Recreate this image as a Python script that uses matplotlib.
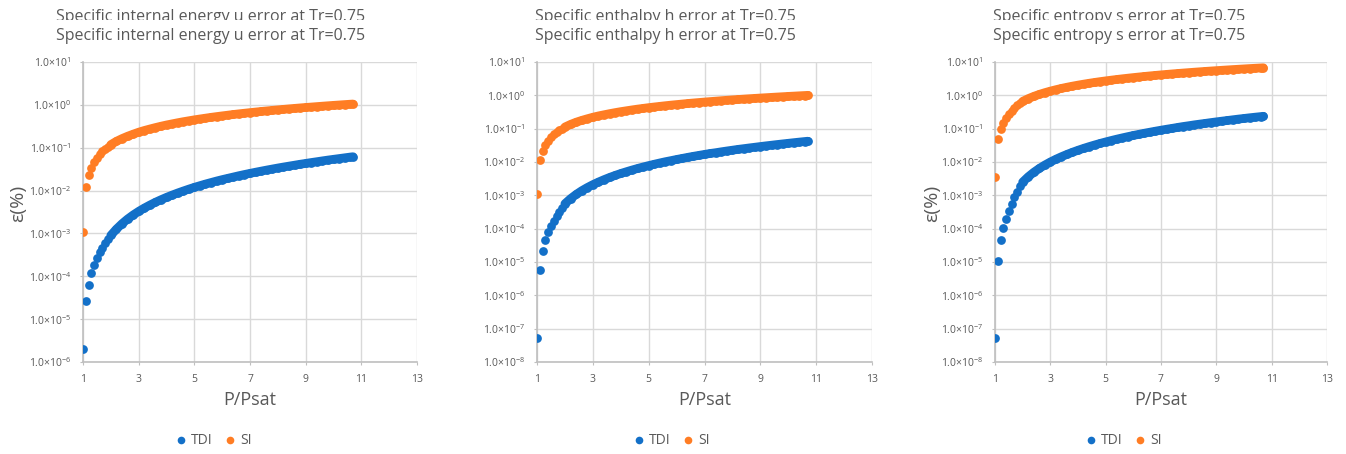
import numpy as np
import matplotlib
matplotlib.use("Agg")
import matplotlib.pyplot as plt
from matplotlib.ticker import FixedLocator, FuncFormatter, NullLocator
from matplotlib.transforms import Bbox, TransformedBbox

plt.rcParams['font.family'] = ['Open Sans', 'DejaVu Sans']
plt.rcParams['mathtext.fontset'] = 'custom'
plt.rcParams['mathtext.rm'] = 'Open Sans'

# reduced pressure P/Psat shared by the three panels
p_ratio = [1.0, 1.1, 1.2, 1.3, 1.4, 1.5, 1.6, 1.7, 1.8, 1.9, 2.0,
           2.2, 2.4, 2.6, 2.8, 3.0, 3.2, 3.4, 3.6, 3.8, 4.0,
           4.2, 4.4, 4.6, 4.8, 5.0, 5.2, 5.4, 5.6, 5.8, 6.0,
           6.2, 6.4, 6.6, 6.8, 7.0, 7.2, 7.4, 7.6, 7.8, 8.0,
           8.2, 8.4, 8.6, 8.8, 9.0, 9.2, 9.4, 9.6, 9.8, 10.0,
           10.2, 10.4, 10.6, 10.7]

# error in % for internal energy u
u_tdi = [2.0e-6, 2.6e-5, 6.4e-5, 1.18e-4, 1.8e-4, 2.7e-4, 3.6e-4, 4.6e-4, 5.9e-4, 7.4e-4, 9.0e-4,
         1.26e-3, 1.68e-3, 2.16e-3, 2.69e-3, 3.27e-3, 3.90e-3, 4.58e-3, 5.33e-3, 6.11e-3, 6.95e-3,
         7.83e-3, 8.77e-3, 9.75e-3, 1.08e-2, 1.19e-2, 1.30e-2, 1.42e-2, 1.54e-2, 1.67e-2, 1.80e-2,
         1.93e-2, 2.07e-2, 2.22e-2, 2.37e-2, 2.52e-2, 2.68e-2, 2.84e-2, 3.01e-2, 3.18e-2, 3.36e-2,
         3.54e-2, 3.72e-2, 3.91e-2, 4.11e-2, 4.30e-2, 4.51e-2, 4.71e-2, 4.93e-2, 5.15e-2, 5.36e-2,
         5.58e-2, 5.81e-2, 6.05e-2, 6.16e-2]
u_si = [1.07e-3, 0.0118, 0.0237, 0.034, 0.046, 0.058, 0.070, 0.082, 0.094, 0.106, 0.118,
        0.141, 0.163, 0.185, 0.207, 0.230, 0.252, 0.273, 0.295, 0.317, 0.339,
        0.360, 0.382, 0.404, 0.425, 0.447, 0.468, 0.489, 0.511, 0.532, 0.553,
        0.574, 0.596, 0.617, 0.638, 0.659, 0.680, 0.701, 0.722, 0.743, 0.764,
        0.785, 0.806, 0.827, 0.848, 0.869, 0.889, 0.910, 0.931, 0.952, 0.973,
        0.993, 1.014, 1.035, 1.045]

# error in % for enthalpy h
h_tdi = [5.2e-8, 5.8e-6, 2.1e-5, 4.5e-5, 7.8e-5, 1.2e-4, 1.75e-4, 2.4e-4, 3.2e-4, 4.3e-4, 5.6e-4,
         7.9e-4, 1.06e-3, 1.37e-3, 1.71e-3, 2.09e-3, 2.50e-3, 2.95e-3, 3.44e-3, 3.96e-3, 4.52e-3,
         5.10e-3, 5.73e-3, 6.39e-3, 7.08e-3, 7.80e-3, 8.56e-3, 9.36e-3, 1.02e-2, 1.10e-2, 1.19e-2,
         1.28e-2, 1.38e-2, 1.48e-2, 1.58e-2, 1.69e-2, 1.80e-2, 1.90e-2, 2.02e-2, 2.14e-2, 2.26e-2,
         2.39e-2, 2.51e-2, 2.64e-2, 2.77e-2, 2.91e-2, 3.05e-2, 3.19e-2, 3.34e-2, 3.49e-2, 3.64e-2,
         3.80e-2, 3.96e-2, 4.12e-2, 4.20e-2]
h_si = [1.12e-3, 0.0117, 0.0219, 0.033, 0.044, 0.056, 0.067, 0.079, 0.090, 0.101, 0.112,
        0.134, 0.156, 0.177, 0.198, 0.220, 0.241, 0.261, 0.282, 0.303, 0.324,
        0.344, 0.365, 0.386, 0.406, 0.427, 0.447, 0.467, 0.488, 0.508, 0.528,
        0.548, 0.569, 0.589, 0.609, 0.629, 0.649, 0.669, 0.690, 0.710, 0.730,
        0.750, 0.770, 0.790, 0.810, 0.830, 0.849, 0.869, 0.889, 0.909, 0.929,
        0.948, 0.968, 0.988, 0.998]

# error in % for entropy s
s_tdi = [5.2e-8, 1.05e-5, 4.5e-5, 1.07e-4, 2.0e-4, 3.4e-4, 5.6e-4, 8.8e-4, 1.3e-3, 1.85e-3, 2.5e-3,
         3.6e-3, 4.9e-3, 6.4e-3, 8.1e-3, 1.0e-2, 1.21e-2, 1.44e-2, 1.69e-2, 1.96e-2, 2.25e-2,
         2.56e-2, 2.89e-2, 3.24e-2, 3.61e-2, 4.0e-2, 4.41e-2, 4.84e-2, 5.29e-2, 5.76e-2, 6.25e-2,
         6.76e-2, 7.29e-2, 7.84e-2, 8.41e-2, 9.0e-2, 9.61e-2, 0.102, 0.109, 0.116, 0.1225,
         0.130, 0.137, 0.144, 0.152, 0.160, 0.168, 0.176, 0.185, 0.194, 0.2025,
         0.212, 0.221, 0.230, 0.235]
s_si = [3.5e-3, 0.048, 0.10, 0.15, 0.21, 0.27, 0.34, 0.42, 0.50, 0.57, 0.66,
        0.795, 0.930, 1.066, 1.202, 1.338, 1.475, 1.612, 1.749, 1.886, 2.024,
        2.162, 2.300, 2.438, 2.576, 2.714, 2.853, 2.991, 3.130, 3.269, 3.408,
        3.547, 3.686, 3.826, 3.965, 4.105, 4.244, 4.384, 4.524, 4.663, 4.803,
        4.943, 5.083, 5.224, 5.364, 5.504, 5.645, 5.785, 5.926, 6.066, 6.207,
        6.348, 6.488, 6.629, 6.700]

titles = ["Specific internal energy u error at Tr=0.75",
          "Specific enthalpy h error at Tr=0.75",
          "Specific entropy s error at Tr=0.75"]
x_ticks = [1, 3, 5, 7, 9, 11, 13]
y_lows = [-6, -8, -8]
series_names = ["TDI", "SI"]

BLUE = '#1370c8'
ORANGE = '#ff7d24'
TEXT = '#595959'
GRID = '#d9d9d9'
AXIS = '#bfbfbf'
MS = 6.3          # marker diameter in points (~8.7 px)
DENSE_FROM = 10   # from P/Psat = 2 on the markers run together into a band

W, H = 1346, 454
fig = plt.figure(figsize=(W / 100, H / 100), dpi=100)

def px(x, y):
    """pixel position from the top-left corner -> figure fraction"""
    return x / W, 1 - y / H

# axes boxes in pixels: left, right, top, bottom
boxes = [(83, 417, 62, 362), (537, 872, 62, 362), (995, 1327, 62, 362)]
title_cx = [211, 665, 1119]
legend_cx = [214, 672, 1124]
ylabel_x = [18, None, 932]

def sup_label(v, pos):
    e = int(round(np.log10(v)))
    return r'$\mathregular{1.0{\times}10^{%d}}$' % e

def draw_series(ax, y, color, name):
    ax.plot(p_ratio, y, 'o', color=color, ms=MS, mew=0, label=name, zorder=3)
    # the closely packed markers merge into a solid band
    ax.plot(p_ratio[DENSE_FROM:], y[DENSE_FROM:], '-', color=color, lw=MS,
            solid_capstyle='round', zorder=3)

def draw_panel(ax, tdi, si, low):
    draw_series(ax, tdi, BLUE, series_names[0])
    draw_series(ax, si, ORANGE, series_names[1])
    ax.set_yscale('log')
    ax.set_xlim(1, 13)
    ax.set_ylim(10.0 ** low, 10.0 ** 1)
    ax.xaxis.set_major_locator(FixedLocator(x_ticks))
    ax.yaxis.set_major_locator(FixedLocator([10.0 ** e for e in range(low, 2)]))
    ax.yaxis.set_minor_locator(NullLocator())
    ax.yaxis.set_major_formatter(FuncFormatter(sup_label))
    ax.grid(True, color=GRID, lw=1.0)
    ax.set_axisbelow(True)
    for side in ['top', 'right']:
        ax.spines[side].set_visible(False)
    for side in ['left', 'bottom']:
        ax.spines[side].set_color(AXIS)
        ax.spines[side].set_linewidth(1.2)
    ax.tick_params(axis='both', colors=AXIS, labelcolor=TEXT, labelsize=7.5,
                   length=2.5, width=0.8, pad=6)

panels = [(u_tdi, u_si), (h_tdi, h_si), (s_tdi, s_si)]
for i, (tdi, si) in enumerate(panels):
    l, r, t, b = boxes[i]
    x0, y0 = px(l, b)
    ax = fig.add_axes([x0, y0, (r - l) / W, (b - t) / H])
    draw_panel(ax, tdi, si, y_lows[i])

    # title, plus the clipped copy of it above
    cx, cy = px(title_cx[i], 39.5)
    fig.text(cx, cy, titles[i], ha='center', va='baseline', fontsize=11.5, color=TEXT)
    cx, cy = px(title_cx[i], 21)
    ghost = fig.text(cx, cy, titles[i], ha='center', va='baseline', fontsize=11.5, color=TEXT)
    _, clip_y = px(0, 19.5)
    ghost.set_clip_box(TransformedBbox(Bbox.from_extents(0, clip_y, 1, 1), fig.transFigure))
    ghost.set_clip_on(True)

    # axis titles
    cx, cy = px((l + r) / 2, 400)
    fig.text(cx, cy, "P/Psat", ha='center', va='center', fontsize=13, color=TEXT)
    if ylabel_x[i] is not None:
        cx, cy = px(ylabel_x[i], 203)
        fig.text(cx, cy, "ε(%)", ha='center', va='center', rotation=90,
                 fontsize=14, color=TEXT)

    lx, ly = px(legend_cx[i], 441)
    leg = ax.legend(loc='center', bbox_to_anchor=(lx, ly), bbox_transform=fig.transFigure,
                    ncol=2, frameon=False, fontsize=10, labelcolor=TEXT,
                    handlelength=0.6, handletextpad=0.4, columnspacing=1.0)
    for h in leg.legend_handles:
        h.set_markersize(5.5)

fig.savefig("out.png", dpi=100)
